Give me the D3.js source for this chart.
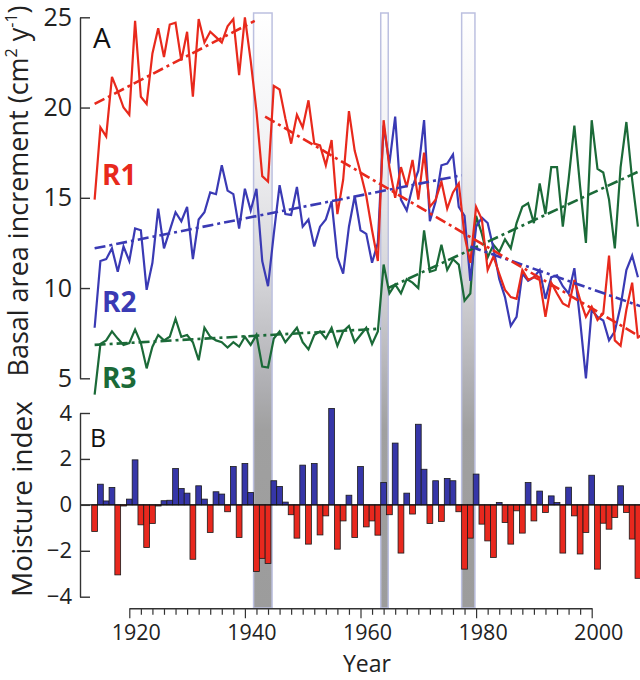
<!DOCTYPE html>
<html>
<head>
<meta charset="utf-8">
<script src="https://cdn.jsdelivr.net/npm/d3@7/dist/d3.min.js"></script>
<style>
  body { margin: 0; background: #fff; }
  svg { display: block; font-family: "Open Sans", "Noto Sans", sans-serif; }
</style>
</head>
<body>
<script>
// ---------------- DATA ----------------
const firstYear = 1914;

// Series R1 (red), 1914-2008
const r1 = [
  14.9, 18.9, 18.4, 21.7, 20.9, 20.0,
  19.6, 24.8, 20.6, 20.2, 23.0, 24.4, 22.8, 24.6, 24.7, 22.6,
  24.2, 20.6, 24.9, 23.6, 24.2, 23.9, 23.6, 24.5, 24.9, 21.8,
  25.0, 22.6, 19.8, 16.2, 15.9, 21.2, 21.0, 19.4, 18.0, 19.6,
  18.9, 20.4, 18.0, 17.9, 16.8, 18.2, 14.1, 16.0, 19.8, 17.6,
  16.4, 15.1, 13.2, 11.5, 19.3, 16.7, 15.0, 16.7, 15.6, 17.1,
  14.9, 17.5, 14.5, 14.9, 15.9, 14.4, 15.3, 15.8, 12.9, 11.4,
  14.5, 13.8, 11.0, 11.75, 10.8, 9.9, 9.5, 9.4, 11.0, 10.45,
  10.6, 10.45, 8.4, 10.3, 9.7, 9.15, 8.97, 10.45, 9.34, 8.4,
  8.97, 8.23, 8.6, 11.8, 7.1, 6.8, 8.8, 10.3, 7.2
];
// Series R2 (blue), 1914-2008
const r2 = [
  7.8, 11.5, 11.6, 12.2, 10.9, 12.3,
  11.5, 13.3, 13.2, 9.9, 11.4, 14.4, 12.2, 13.2, 14.2, 13.7,
  14.5, 11.6, 13.8, 14.2, 15.3, 15.2, 16.8, 15.4, 15.2, 13.3,
  15.5, 14.3, 15.5, 11.5, 10.1, 13.0, 15.7, 14.1, 14.05, 15.6,
  13.4, 13.8, 12.3, 13.4, 13.8, 14.8, 11.7, 10.8, 13.4, 15.1,
  13.2, 13.0, 11.4, 12.5, 19.0, 16.9, 19.5, 14.9, 14.3, 15.6,
  16.5, 19.3, 13.7, 14.8, 16.8, 16.9, 17.4, 14.5, 14.0, 10.4,
  13.4, 13.9, 13.6, 12.2, 10.5, 9.5, 7.9, 8.4, 10.8, 10.4,
  10.6, 11.0, 9.4, 10.6, 10.7, 10.1, 9.7, 11.1, 8.2, 5.0,
  8.8, 8.4, 8.2, 7.1, 7.6, 9.0, 11.0, 11.8, 10.6
];
// Series R3 (green), 1914-2008
const r3 = [
  4.1, 6.9, 7.1, 7.6, 7.2, 6.85,
  6.95, 7.7, 6.95, 5.55, 6.75, 7.4, 7.1, 7.3, 8.3, 7.3,
  7.4, 7.0, 6.0, 7.8, 7.3, 7.1, 7.0, 6.7, 7.0, 6.75,
  7.3, 6.85, 7.4, 5.65, 5.6, 7.2, 7.6, 7.0, 7.4, 7.8,
  7.0, 6.6, 7.4, 7.6, 7.2, 7.8, 6.8, 7.6, 7.9, 7.0,
  7.4, 7.8, 6.9, 7.6, 11.3, 9.7, 10.2, 9.7, 10.5, 10.3,
  10.0, 13.2, 10.9, 11.0, 12.4, 11.0, 11.6, 11.3, 9.3, 9.7,
  14.0, 13.0, 11.7, 12.4, 12.0, 12.7, 12.2, 13.6, 14.5, 14.7,
  13.6, 15.8, 14.1, 16.7, 16.7, 13.4, 16.0, 19.0, 15.6, 12.5,
  19.3, 16.6, 16.4, 14.9, 12.2, 16.7, 19.2, 16.0, 13.4
];
// Moisture index, 1914-2008
const moisture = [
  -1.16, 0.9, 0.17, 0.76, -3.05, -0.05,
  0.25, 1.96, -0.87, -1.86, -0.81, -0.05, 0.18, 0.2, 1.58, 0.71,
  0.51, -2.37, 0.83, 0.25, -1.2, 0.57, 0.47, -0.3, 1.67, -1.42,
  1.8, 0.54, -2.9, -2.33, -2.55, 1.05, 0.8, 0.12, -0.43, -1.45,
  1.73, -1.71, 1.8, -1.31, -0.48, 4.2, -1.93, -0.7, 0.42, -1.42,
  1.67, -0.96, -0.7, -1.32, 0.97, -0.43, 2.69, -2.1, 0.51, -0.4,
  3.51, 1.55, -0.81, 1.05, -0.72, 1.15, 1.05, -0.3, -2.8, -1.45,
  1.34, -0.84, -1.57, -2.29, 0.1, -0.77, -1.71, -0.26, -1.23, 0.97,
  -0.7, 0.6, -0.33, 0.39, 0.1, -2.1, 0.77, -0.48, -2.14, -1.2,
  1.29, -2.8, -0.8, -1.06, -0.55, 0.83, -0.33, -1.49, -3.2
];
// Trend segments [startYear, startValue, endYear, endValue]
const trendR1 = [[1914, 20.2, 1941.7, 24.8], [1943.5, 19.5, 2008.4, 7.3]];
const trendR2 = [[1914, 12.2, 1977.5, 16.25], [1979, 12.3, 2008.4, 9.0]];
const trendR3 = [[1914, 6.85, 1963.5, 7.75], [1964.8, 10.0, 2008.4, 16.5]];
// Drought periods (shaded), in years
const droughts = [[1941.5, 1944.7], [1963.5, 1964.8], [1977.5, 1979.8]];
// Tick values
const ticksA = [5, 10, 15, 20, 25];
const ticksB = [-4, -2, 0, 2, 4];
const ticksYearMajor = [1920, 1940, 1960, 1980, 2000];
const ticksYearMinor = d3.range(1920, 2001, 2);

// ---------------- STYLE ----------------
const colR1 = "#e8291c", colR2 = "#3a3ab4", colR3 = "#1b6a38";
const barBlue = "#3636a8", barRed = "#e8281e";
const axisCol = "#333";

const svg = d3.select("body").append("svg").attr("width", 640).attr("height", 680);

const x = d3.scaleLinear().domain([1920, 2000]).range([129.3, 591.7]);
const yA = d3.scaleLinear().domain([5, 25]).range([378.3, 17.3]);
const yB = d3.scaleLinear().domain([-4, 4]).range([596.7, 413]);
const yearOf = i => firstYear + i;
const bw = x(1921) - x(1920);

// gradient for drought shading
const defs = svg.append("defs");
const grad = defs.append("linearGradient").attr("id", "shade")
  .attr("gradientUnits", "userSpaceOnUse").attr("x1", 0).attr("x2", 0).attr("y1", 13).attr("y2", 608);
[[0, "#ffffff"], [0.22, "#f2f2f4"], [0.45, "#d4d4d8"], [0.62, "#b0b0b4"], [0.7, "#a0a0a0"], [1, "#9c9c9c"]]
  .forEach(([o, c]) => grad.append("stop").attr("offset", o).attr("stop-color", c));

svg.append("g").selectAll("rect").data(droughts).join("rect")
  .attr("x", d => x(d[0])).attr("width", d => x(d[1]) - x(d[0]))
  .attr("y", 13).attr("height", 608 - 13)
  .attr("fill", "url(#shade)").attr("stroke", "#bcc0e0").attr("stroke-width", 1.5);

// ---------- Panel B bars ----------
svg.append("g").selectAll("rect").data(moisture).join("rect")
  .attr("x", (d, i) => x(yearOf(i)) - bw / 2)
  .attr("width", bw)
  .attr("y", d => d >= 0 ? yB(d) : yB(0))
  .attr("height", d => Math.abs(yB(d) - yB(0)))
  .attr("fill", d => d >= 0 ? barBlue : barRed)
  .attr("stroke", "#1a1a1a").attr("stroke-width", 0.8);

svg.append("line").attr("x1", 80).attr("x2", 640).attr("y1", yB(0)).attr("y2", yB(0))
  .attr("stroke", "#111").attr("stroke-width", 1.2);

// ---------- Panel A lines ----------
const line = d3.line().x((d, i) => x(yearOf(i))).y(d => yA(d));
[[r3, colR3], [r2, colR2], [r1, colR1]].forEach(([s, c]) => {
  svg.append("path").datum(s).attr("d", line)
    .attr("fill", "none").attr("stroke", c).attr("stroke-width", 2.2)
    .attr("stroke-linejoin", "miter");
});
[[trendR3, colR3], [trendR2, colR2], [trendR1, colR1]].forEach(([segs, c]) => {
  svg.append("g").selectAll("line").data(segs).join("line")
    .attr("x1", d => x(d[0])).attr("y1", d => yA(d[1]))
    .attr("x2", d => x(d[2])).attr("y2", d => yA(d[3]))
    .attr("stroke", c).attr("stroke-width", 2.6)
    .attr("stroke-dasharray", "11,4,3,4");
});

// ---------- Axes ----------
const axA = svg.append("g").attr("transform", "translate(80,0)")
  .call(d3.axisLeft(yA).tickValues(ticksA).tickSizeInner(-10).tickSizeOuter(0).tickPadding(8));
axA.select(".domain").attr("stroke", axisCol).attr("stroke-width", 1.4);
axA.selectAll(".tick line").attr("stroke", axisCol).attr("stroke-width", 1.4);
axA.selectAll(".tick text").attr("font-size", 25).attr("fill", "#222")
  .attr("font-family", "Open Sans");

const axB = svg.append("g").attr("transform", "translate(80,0)")
  .call(d3.axisLeft(yB).tickValues(ticksB).tickSizeInner(-10).tickSizeOuter(0).tickPadding(8));
axB.select(".domain").attr("stroke", axisCol).attr("stroke-width", 1.4);
axB.selectAll(".tick line").attr("stroke", axisCol).attr("stroke-width", 1.4);
axB.selectAll(".tick text").attr("font-size", 22).attr("fill", "#222")
  .attr("font-family", "Open Sans");

const axX = svg.append("g").attr("transform", "translate(0,608.3)")
  .call(d3.axisBottom(x).tickValues(ticksYearMinor).tickSizeInner(6.5).tickSizeOuter(0)
    .tickFormat(d => ticksYearMajor.includes(d) ? d : ""));
axX.select(".domain").attr("stroke", axisCol).attr("stroke-width", 1.4);
axX.selectAll(".tick line").attr("stroke", axisCol).attr("stroke-width", 1.2)
  .attr("y2", d => ticksYearMajor.includes(d) ? 10 : 6.5);
axX.selectAll(".tick text").attr("font-size", 21.5).attr("fill", "#222")
  .attr("font-family", "Open Sans").attr("y", 32).attr("dy", 0).attr("dx", 6.5);

// ---------- Texts ----------
const tA = svg.append("text").attr("transform", "translate(28,191) rotate(-90)")
  .attr("text-anchor", "middle").attr("font-size", 27).attr("fill", "#222");
tA.append("tspan").text("Basal area increment (cm");
tA.append("tspan").text("2").attr("font-size", 16).attr("dy", -11);
tA.append("tspan").text(" y").attr("dy", 11);
tA.append("tspan").text("-1").attr("font-size", 16).attr("dy", -11);
tA.append("tspan").text(")").attr("dy", 11);

svg.append("text").attr("transform", "translate(32,499) rotate(-90)")
  .attr("text-anchor", "middle").attr("font-size", 28).attr("fill", "#222").text("Moisture index");

svg.append("text").attr("x", 367).attr("y", 672).attr("text-anchor", "middle")
  .attr("font-size", 23).attr("fill", "#222").text("Year");

svg.append("text").attr("x", 93).attr("y", 48).attr("font-size", 28).attr("fill", "#111").text("A");
svg.append("text").attr("x", 90).attr("y", 447).attr("font-size", 25).attr("fill", "#111").text("B");

const rlab = [["R1", colR1, 185], ["R2", colR2, 312], ["R3", colR3, 388]];
svg.append("g").selectAll("text").data(rlab).join("text")
  .attr("x", 102).attr("y", d => d[2]).attr("font-size", 28).attr("font-weight", "bold")
  .attr("fill", d => d[1]).text(d => d[0]);
</script>
</body>
</html>
